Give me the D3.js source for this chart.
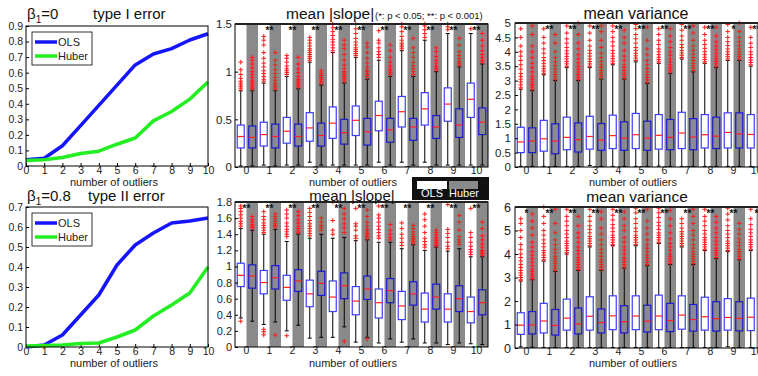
<!DOCTYPE html>
<html>
<head>
<meta charset="utf-8">
<script src="https://cdn.jsdelivr.net/npm/d3@7"></script>
<style>
  body { margin: 0; background: #fff; }
  svg text { font-family: "Liberation Sans", Arial, sans-serif; }
</style>
</head>
<body>
<svg id="fig" width="758" height="376"></svg>
<script>
// x categories shared by all panels
const outlierCounts = [0, 1, 2, 3, 4, 5, 6, 7, 8, 9, 10];

// error rates (left column)
const typeI_OLS = [0.04, 0.05, 0.13, 0.26, 0.39, 0.52, 0.65, 0.72, 0.755, 0.81, 0.85];
const typeI_Huber = [0.035, 0.04, 0.055, 0.08, 0.095, 0.14, 0.18, 0.29, 0.35, 0.43, 0.54];
const typeII_OLS = [0.0, 0.01, 0.06, 0.16, 0.26, 0.41, 0.51, 0.57, 0.62, 0.63, 0.645];
const typeII_Huber = [0.005, 0.008, 0.01, 0.017, 0.02, 0.05, 0.085, 0.155, 0.21, 0.27, 0.40];

// box stats per group: [whisker low, q1, median, q3, whisker high]
const slopeNull_OLS = [
  [0.01, 0.2, 0.32, 0.44, 0.8], [0.02, 0.22, 0.34, 0.47, 0.88], [0.02, 0.25, 0.375, 0.52, 0.95],
  [0.05, 0.27, 0.41, 0.57, 1.1], [0.02, 0.3, 0.46, 0.63, 1.2], [0.02, 0.33, 0.49, 0.64, 1.15],
  [0.05, 0.38, 0.54, 0.69, 1.12], [0.05, 0.42, 0.58, 0.74, 1.22], [0.05, 0.44, 0.61, 0.78, 1.33],
  [0.02, 0.48, 0.66, 0.83, 1.4], [0.02, 0.52, 0.71, 0.88, 1.4]];
const slopeNull_Huber = [
  [0.01, 0.2, 0.31, 0.43, 0.8], [0.01, 0.2, 0.32, 0.45, 0.8], [0.02, 0.22, 0.32, 0.45, 0.82],
  [0.02, 0.22, 0.33, 0.46, 0.86], [0.02, 0.24, 0.36, 0.5, 0.88], [0.02, 0.23, 0.37, 0.51, 0.92],
  [0.02, 0.26, 0.39, 0.51, 0.95], [0.02, 0.28, 0.42, 0.51, 0.95], [0.02, 0.3, 0.42, 0.54, 1.0],
  [0.02, 0.31, 0.44, 0.61, 1.05], [0.02, 0.34, 0.47, 0.62, 1.08]];
const slopeNull_OLS_out = [
  "0.82 0.84 0.86 0.88 0.9 0.93 0.97 1.02 1.1",
  "0.9 0.92 0.95 0.98 1.01 1.05 1.09 1.14 1.2 1.28 1.33 1.37",
  "0.97 0.99 1.01 1.03 1.06 1.1 1.14 1.17",
  "1.12 1.14 1.16 1.18 1.2 1.22 1.24 1.27 1.3 1.33 1.36",
  "1.22 1.25 1.28 1.31 1.34 1.38 1.42 1.46 1.5",
  "1.17 1.19 1.21 1.23 1.25 1.28 1.31 1.35 1.4 1.45 1.5",
  "1.15 1.18 1.21 1.25 1.3 1.33 1.43",
  "1.24 1.26 1.28 1.3 1.33 1.37 1.42 1.47 1.5",
  "1.36 1.4 1.44 1.48 1.5",
  "1.44 1.47 1.5",
  "1.45"];
const slopeNull_Huber_out = [
  "0.82 0.83 0.85 0.87 0.89 0.91 0.94 0.97 1.0 1.04 1.08 1.12 1.15",
  "0.82 0.84 0.86 0.88 0.91 0.94 0.98 1.02 1.07 1.12 1.2",
  "0.84 0.86 0.88 0.9 0.92 0.95 0.99 1.03 1.08 1.15",
  "0.88 0.9 0.92 0.94 0.96 0.98 1.01",
  "0.9 0.92 0.94 0.96 0.98 1.0 1.03 1.07 1.12 1.18 1.24 1.28 1.33",
  "0.94 0.96 0.98 1.0 1.02 1.05 1.09 1.14 1.2 1.26 1.3",
  "0.97 0.99 1.01 1.03 1.06 1.1 1.15 1.22 1.28",
  "0.97 1.0 1.03 1.06 1.1 1.15 1.2 1.25 1.35",
  "1.02 1.04 1.06 1.09 1.12 1.16 1.21 1.25",
  "1.07 1.09 1.11 1.14 1.17 1.21 1.28 1.35",
  "1.1 1.12 1.15 1.18 1.22 1.27 1.33 1.4"];

const slopeAlt_OLS = [
  [0.36, 0.75, 0.89, 1.04, 1.47], [0.28, 0.66, 0.8, 0.95, 1.4], [0.2, 0.58, 0.74, 0.89, 1.31],
  [0.11, 0.5, 0.66, 0.83, 1.35], [0.12, 0.44, 0.62, 0.82, 1.35], [0.06, 0.4, 0.57, 0.75, 1.32],
  [0.05, 0.36, 0.55, 0.72, 1.3], [0.06, 0.34, 0.51, 0.69, 1.22], [0.05, 0.31, 0.47, 0.67, 1.2],
  [0.03, 0.31, 0.47, 0.66, 1.19], [0.04, 0.3, 0.44, 0.62, 1.12]];
const slopeAlt_Huber = [
  [0.32, 0.73, 0.88, 1.02, 1.45], [0.31, 0.72, 0.86, 1.01, 1.46], [0.27, 0.69, 0.82, 0.96, 1.4],
  [0.12, 0.64, 0.79, 0.94, 1.4], [0.25, 0.6, 0.76, 0.92, 1.36], [0.12, 0.59, 0.72, 0.88, 1.33],
  [0.1, 0.55, 0.7, 0.85, 1.3], [0.1, 0.52, 0.66, 0.81, 1.27], [0.05, 0.47, 0.62, 0.78, 1.24],
  [0.05, 0.44, 0.6, 0.76, 1.22], [0.03, 0.4, 0.55, 0.71, 1.12]];
const slopeAlt_OLS_out = [
  "0.32 1.5 1.53 1.56 1.6 1.64 1.68 1.72 1.75",
  "0.15 0.19 0.22 1.42 1.45 1.48 1.51 1.54 1.58 1.62 1.68",
  "0.14 1.37 1.4 1.43 1.46 1.5 1.54 1.6 1.65 1.7",
  "1.38 1.41 1.44 1.47 1.5 1.53 1.57 1.62 1.67 1.72",
  "1.4 1.45 1.57 1.8",
  "1.35 1.38 1.45 1.5 1.53 1.72",
  "1.35 1.38 1.42 1.46 1.5 1.55 1.6 1.64 1.75",
  "1.26 1.3 1.35 1.4 1.47 1.54",
  "1.24 1.27 1.31 1.35 1.42 1.5 1.58 1.65",
  "1.22 1.25 1.3 1.36 1.41 1.46 1.77",
  "1.15 1.18 1.21 1.25 1.3 1.36 1.42 1.72"];
const slopeAlt_Huber_out = [
  "1.48 1.5 1.52 1.55 1.58 1.62",
  "0.15 1.49 1.51 1.53 1.56 1.59 1.62 1.65",
  "1.42 1.44 1.47 1.5 1.54 1.58 1.63 1.68",
  "1.45 1.48 1.51 1.55 1.6",
  "0.07 1.42 1.48 1.53 1.59 1.65 1.72",
  "0.1 1.35 1.37 1.39 1.41 1.43 1.46 1.5 1.55 1.62 1.7",
  "1.33 1.36 1.4 1.45 1.52",
  "1.29 1.31 1.33 1.35 1.37 1.4 1.43 1.47 1.51",
  "1.26 1.28 1.3 1.32 1.34 1.36 1.39 1.42 1.45",
  "1.27 1.3 1.33 1.37 1.45 1.55 1.63",
  "1.14 1.16 1.18 1.2 1.24 1.28 1.33 1.38 1.47 1.55"];

const varNull_OLS = [
  [0.02, 0.5, 0.87, 1.38, 2.7], [0.02, 0.55, 0.98, 1.62, 3.2], [0.02, 0.6, 1.03, 1.73, 3.45],
  [0.05, 0.62, 1.06, 1.76, 3.45], [0.02, 0.64, 1.09, 1.8, 3.55], [0.02, 0.64, 1.12, 1.86, 3.65],
  [0.03, 0.62, 1.1, 1.82, 3.6], [0.02, 0.64, 1.18, 1.9, 3.75], [0.02, 0.66, 1.12, 1.82, 3.6],
  [0.02, 0.66, 1.2, 1.88, 3.7], [0.02, 0.66, 1.13, 1.82, 3.5]];
const varNull_Huber = [
  [0.02, 0.5, 0.9, 1.36, 2.65], [0.02, 0.46, 0.9, 1.5, 3.0], [0.02, 0.52, 0.95, 1.53, 3.0],
  [0.02, 0.58, 0.93, 1.51, 3.05], [0.02, 0.58, 1.0, 1.57, 3.05], [0.02, 0.58, 1.0, 1.59, 2.9],
  [0.02, 0.6, 1.03, 1.65, 3.25], [0.02, 0.6, 1.04, 1.68, 3.3], [0.02, 0.64, 1.07, 1.73, 3.45],
  [0.02, 0.66, 1.15, 1.88, 3.7], [0.02, 0.62, 1.08, 1.75, 3.5]];
const varNull_OLS_out = [
  "2.75 2.85 2.95 3.05 3.15 3.25 3.4 3.55 3.7 3.85 4.0 4.2 4.5 4.8",
  "3.25 3.33 3.41 3.5 3.6 3.7 3.8 3.95 4.1 4.3 4.5 4.8",
  "3.5 3.58 3.66 3.75 3.84 3.93 4.03 4.15 4.3 4.45 4.65 4.9",
  "3.5 3.58 3.66 3.75 3.85 3.95 4.05 4.2 4.4 4.65 4.9",
  "3.6 3.68 3.76 3.85 3.95 4.05 4.2 4.35 4.5 4.7 4.9",
  "3.7 3.78 3.86 3.95 4.05 4.15 4.3 4.45 4.6 4.8 4.95",
  "3.65 3.73 3.81 3.9 4.0 4.1 4.25 4.4 4.6 4.8",
  "3.8 3.88 3.96 4.05 4.15 4.25 4.4 4.55 4.75 4.95",
  "3.65 3.73 3.81 3.9 4.0 4.12 4.25 4.4 4.6 4.85",
  "3.75 3.83 3.91 4.0 4.1 4.22 4.35 4.5 4.7 4.95",
  "3.55 3.63 3.71 3.8 3.9 4.0 4.15 4.3 4.5 4.85"];
const varNull_Huber_out = [
  "2.7 2.78 2.86 2.95 3.05 3.15 3.3 3.45 3.6 3.8 4.0 4.2 4.6 4.9",
  "3.05 3.13 3.21 3.3 3.4 3.52 3.65 3.8 4.0 4.3 4.6",
  "3.05 3.13 3.21 3.3 3.4 3.5 3.62 3.75 3.9 4.1 4.3 4.6 5.0",
  "3.1 3.18 3.26 3.35 3.45 3.55 3.67 3.8 3.95 4.15 4.4 4.7 4.9",
  "3.1 3.18 3.26 3.35 3.45 3.55 3.7 3.85 4.05 4.3 4.5 4.75",
  "2.95 3.03 3.11 3.2 3.3 3.42 3.55 3.7 3.9 4.1 4.4 4.85",
  "3.3 3.38 3.46 3.55 3.65 3.75 3.88 4.0 4.15 4.35 4.55 4.8",
  "3.35 3.43 3.51 3.6 3.7 3.8 3.92 4.05 4.2 4.4 4.65 4.9",
  "3.5 3.58 3.66 3.75 3.85 3.95 4.07 4.2 4.35 4.55 4.85",
  "3.75 3.83 3.91 4.0 4.1 4.22 4.35 4.5 4.7 5.0",
  "3.55 3.63 3.71 3.8 3.9 4.0 4.15 4.3 4.5 4.8"];

const varAlt_OLS = [
  [0.05, 0.58, 0.97, 1.5, 2.85], [0.02, 0.64, 1.15, 1.9, 3.7], [0.02, 0.76, 1.27, 2.08, 4.0],
  [0.02, 0.76, 1.35, 2.18, 4.3], [0.02, 0.78, 1.37, 2.22, 4.35], [0.02, 0.78, 1.36, 2.22, 4.35],
  [0.02, 0.78, 1.36, 2.25, 4.45], [0.02, 0.8, 1.4, 2.22, 4.3], [0.02, 0.76, 1.33, 2.16, 4.15],
  [0.05, 0.76, 1.3, 2.1, 4.1], [0.02, 0.74, 1.31, 2.12, 4.15]];
const varAlt_Huber = [
  [0.03, 0.6, 0.98, 1.55, 2.9], [0.02, 0.55, 0.96, 1.64, 3.25], [0.02, 0.6, 1.02, 1.7, 3.3],
  [0.02, 0.64, 1.08, 1.66, 3.3], [0.02, 0.64, 1.12, 1.8, 3.4], [0.02, 0.68, 1.14, 1.82, 3.5],
  [0.02, 0.7, 1.17, 1.9, 3.55], [0.02, 0.72, 1.21, 1.85, 3.55], [0.02, 0.72, 1.25, 1.97, 3.8],
  [0.02, 0.73, 1.26, 1.97, 3.75], [0.02, 0.72, 1.24, 1.95, 3.7]];
const varAlt_OLS_out = [
  "2.9 3.0 3.1 3.2 3.3 3.42 3.55 3.7 3.85 4.0 4.2 4.4 4.7 5.0 5.3 5.5",
  "3.75 3.85 3.95 4.05 4.15 4.3 4.45 4.6 4.8 5.0 5.3 5.6 6.0",
  "4.05 4.15 4.25 4.35 4.45 4.55 4.7 4.85 5.0 5.2 5.4 5.6 5.9",
  "4.35 4.45 4.55 4.65 4.75 4.9 5.05 5.2 5.4 5.6 5.9",
  "4.4 4.5 4.6 4.7 4.8 4.95 5.1 5.25 5.45 5.65 5.9",
  "4.4 4.5 4.6 4.7 4.8 4.95 5.1 5.3 5.5 5.75 5.95",
  "4.5 4.6 4.7 4.8 4.9 5.05 5.2 5.35 5.55 5.75 5.95",
  "4.35 4.45 4.55 4.65 4.75 4.85 4.95 5.1 5.3 5.5",
  "4.2 4.3 4.4 4.5 4.6 4.7 4.85 5.0 5.2 5.4 5.6 5.9",
  "4.15 4.25 4.35 4.45 4.55 4.7 4.85 5.0 5.2 5.45 5.7 5.95",
  "4.2 4.3 4.4 4.5 4.6 4.75 4.9 5.05 5.25 5.5 5.9"];
const varAlt_Huber_out = [
  "2.95 3.05 3.15 3.25 3.35 3.5 3.65 3.8 3.95 4.1 4.3 4.5 4.8 5.1 5.4 5.7",
  "3.3 3.4 3.5 3.6 3.7 3.8 3.9 4.05 4.2 4.4 4.6 4.9 5.3 5.9",
  "3.35 3.45 3.55 3.65 3.75 3.85 4.0 4.15 4.3 4.5 4.7 4.9 5.2 5.6",
  "3.35 3.45 3.55 3.65 3.75 3.9 4.05 4.2 4.4 4.6 4.85 5.1 5.5 5.8",
  "3.45 3.55 3.65 3.75 3.85 4.0 4.15 4.3 4.5 4.7 5.0 5.2 5.5 5.8",
  "3.55 3.65 3.75 3.85 3.95 4.1 4.25 4.4 4.6 4.85 5.1 5.4 5.9",
  "3.6 3.7 3.8 3.9 4.0 4.15 4.3 4.45 4.65 4.9 5.2 5.5 5.85",
  "3.6 3.7 3.8 3.9 4.0 4.1 4.25 4.4 4.6 4.8 5.0 5.3 5.6 5.9",
  "3.85 3.95 4.05 4.15 4.25 4.4 4.55 4.7 4.9 5.1 5.35 5.6",
  "3.8 3.9 4.0 4.1 4.2 4.35 4.5 4.65 4.85 5.05 5.3",
  "3.75 3.85 3.95 4.05 4.15 4.3 4.45 4.6 4.8 5.0 5.3"];

// significance markers (OLS vs Huber)
const starsSlopeNull = ["", "**", "**", "**", "**", "**", "**", "**", "**", "**", "**"];
const starsSlopeAlt = ["**", "**", "**", "**", "**", "**", "**", "**", "**", "**", "**"];
const starsVarNull = ["", "**", "**", "**", "**", "**", "**", "**", "**", "*", "**"];
const starsVarAlt = ["*", "**", "**", "**", "**", "**", "**", "**", "**", "**", "*"];

const svg = d3.select("#fig");
svg.append("rect").attr("width", 758).attr("height", 376).attr("fill", "#fff");

const BLUE = "#1414ff", GREEN = "#22ee22";
const STRIPE = "#8a8a8a";

function styleAxis(sel, size) {
  sel.select(".domain").remove();
  sel.selectAll("text").attr("font-size", size).attr("fill", "#222")
    .attr("font-family", "'Liberation Sans', Arial, sans-serif");
  sel.selectAll(".tick line").attr("stroke", "#000");
}

function betaTitle(x, y, val) {
  const t = svg.append("text").attr("x", x).attr("y", y).attr("font-size", 15).attr("fill", "#111");
  t.append("tspan").text("β");
  t.append("tspan").attr("font-size", 10).attr("dy", 4).text("1");
  t.append("tspan").attr("dy", -4).text("=" + val);
}

function drawLinePanel(o) {
  const x = d3.scaleLinear().domain([0, 10]).range([26, 208]);
  const y = d3.scaleLinear().domain([0, o.yMax]).range([o.bottom, o.top]);

  svg.append("g").attr("transform", `translate(0,${o.bottom})`)
    .call(d3.axisBottom(x).tickValues(outlierCounts).tickSizeInner(-3).tickSizeOuter(0).tickPadding(1))
    .call(s => styleAxis(s, 10.5));
  svg.append("g").attr("transform", `translate(26,0)`)
    .call(d3.axisLeft(y).tickValues(o.yTicks).tickSizeInner(-3).tickSizeOuter(0).tickPadding(3)
      .tickFormat(d => String(d)))
    .call(s => styleAxis(s, 10.5));

  const line = d3.line().x((d, i) => x(outlierCounts[i])).y(d => y(d));
  svg.append("path").datum(o.ols).attr("d", line).attr("fill", "none")
    .attr("stroke", BLUE).attr("stroke-width", 3.5).attr("stroke-linejoin", "round");
  svg.append("path").datum(o.huber).attr("d", line).attr("fill", "none")
    .attr("stroke", GREEN).attr("stroke-width", 3.5).attr("stroke-linejoin", "round");

  svg.append("rect").attr("x", 26).attr("y", o.top).attr("width", 182).attr("height", o.bottom - o.top)
    .attr("fill", "none").attr("stroke", "#000").attr("stroke-width", 1);

  // legend
  const lg = svg.append("g").attr("transform", `translate(32,${o.legendTop})`);
  lg.append("rect").attr("width", 60).attr("height", 33).attr("fill", "#fff").attr("stroke", "#000").attr("stroke-width", 0.8);
  [["OLS", BLUE, 10], ["Huber", GREEN, 24]].forEach(([name, c, ly]) => {
    lg.append("line").attr("x1", 3).attr("x2", 25).attr("y1", ly).attr("y2", ly).attr("stroke", c).attr("stroke-width", 3.5);
    lg.append("text").attr("x", 26).attr("y", ly + 4).attr("font-size", 11).attr("fill", "#222").text(name);
  });

  betaTitle(27, o.titleY, o.beta);
  svg.append("text").attr("x", o.titleX).attr("y", o.titleY).attr("font-size", 15).attr("fill", "#111").text(o.title);
  svg.append("text").attr("x", 114).attr("y", o.xlabelY).attr("text-anchor", "middle")
    .attr("font-size", 11).attr("fill", "#222").text("number of outliers");
}

function drawBoxPanel(o) {
  const x = d3.scaleBand().domain(outlierCounts).range([o.left, o.left + 253]);
  const y = d3.scaleLinear().domain([0, o.yMax]).range([o.bottom, o.top]);
  const half = x.bandwidth() / 2;
  const g = svg.append("g");

  g.selectAll(".stripe").data(outlierCounts).join("rect")
    .attr("x", d => x(d) + half).attr("y", o.top)
    .attr("width", half).attr("height", o.bottom - o.top).attr("fill", STRIPE);

  const methods = [
    { stats: o.ols, out: o.olsOut, off: half * 0.5, stroke: "#3c3cff", fill: "#fff" },
    { stats: o.huber, out: o.huberOut, off: half * 1.5, stroke: "#1a1ad0", fill: "none" }
  ];
  const bw = 7;
  methods.forEach(m => {
    const rows = m.stats.map((s, i) => ({ i, lo: s[0], q1: s[1], med: s[2], q3: s[3], hi: s[4], cx: x(i) + m.off }));
    const mg = g.append("g");
    // whiskers
    mg.selectAll(".wl").data(rows).join("line")
      .attr("x1", d => d.cx).attr("x2", d => d.cx).attr("y1", d => y(d.lo)).attr("y2", d => y(d.q1))
      .attr("stroke", "#000").attr("stroke-width", 1);
    mg.selectAll(".wh").data(rows).join("line")
      .attr("x1", d => d.cx).attr("x2", d => d.cx).attr("y1", d => y(d.q3)).attr("y2", d => y(d.hi))
      .attr("stroke", "#000").attr("stroke-width", 1);
    mg.selectAll(".cl").data(rows).join("line")
      .attr("x1", d => d.cx - 2).attr("x2", d => d.cx + 2).attr("y1", d => y(d.lo)).attr("y2", d => y(d.lo))
      .attr("stroke", "#000");
    mg.selectAll(".ch").data(rows).join("line")
      .attr("x1", d => d.cx - 2).attr("x2", d => d.cx + 2).attr("y1", d => y(d.hi)).attr("y2", d => y(d.hi))
      .attr("stroke", "#000");
    // boxes
    mg.selectAll(".bx").data(rows).join("rect")
      .attr("x", d => d.cx - bw / 2).attr("width", bw)
      .attr("y", d => y(d.q3)).attr("height", d => y(d.q1) - y(d.q3))
      .attr("fill", m.fill).attr("stroke", m.stroke).attr("stroke-width", 1.2);
    mg.selectAll(".md").data(rows).join("line")
      .attr("x1", d => d.cx - bw / 2).attr("x2", d => d.cx + bw / 2)
      .attr("y1", d => y(d.med)).attr("y2", d => y(d.med))
      .attr("stroke", "#ff2020").attr("stroke-width", 1.2);
    // outliers
    const pts = [];
    m.out.forEach((str, i) => str.split(" ").forEach(v => pts.push({ cx: x(i) + m.off, v: +v })));
    mg.selectAll(".ol").data(pts).join("path")
      .attr("transform", d => `translate(${d.cx},${y(d.v)})`)
      .attr("d", "M-2.3,0H2.3M0,-2.3V2.3")
      .attr("stroke", "#ff1a1a").attr("stroke-width", 1).attr("fill", "none");
  });

  // significance stars
  g.selectAll(".star").data(o.stars).join("text")
    .attr("x", (d, i) => x(i) + half).attr("y", o.top + 10)
    .attr("text-anchor", "middle").attr("font-size", 10).attr("font-weight", "bold")
    .attr("fill", "#111").text(d => d);

  svg.append("g").attr("transform", `translate(0,${o.bottom})`)
    .call(d3.axisBottom(x).tickSize(0).tickPadding(0))
    .call(s => styleAxis(s, 10.5));
  svg.append("g").attr("transform", `translate(${o.left},0)`)
    .call(d3.axisLeft(y).tickValues(o.yTicks).tickSizeInner(-3).tickSizeOuter(0).tickPadding(o.pad)
      .tickFormat(d => String(d)))
    .call(s => styleAxis(s, o.ySize));

  svg.append("rect").attr("x", o.left).attr("y", o.top).attr("width", 253).attr("height", o.bottom - o.top)
    .attr("fill", "none").attr("stroke", "#000").attr("stroke-width", 1);
  svg.append("line").attr("x1", o.left).attr("x2", o.left + 253).attr("y1", o.top).attr("y2", o.top)
    .attr("stroke", "#222").attr("stroke-width", 2);

  svg.append("text").attr("x", o.left + 118).attr("y", o.xlabelY).attr("text-anchor", "middle")
    .attr("font-size", 11).attr("fill", "#222").text("number of outliers");
}

drawLinePanel({ top: 26, bottom: 166, yMax: 0.9, yTicks: [0, 0.1, 0.2, 0.3, 0.4, 0.5, 0.6, 0.7, 0.8, 0.9],
  ols: typeI_OLS, huber: typeI_Huber, legendTop: 32, beta: "0", title: "type I error", titleX: 93, titleY: 19, xlabelY: 186 });
drawLinePanel({ top: 207, bottom: 347, yMax: 0.7, yTicks: [0, 0.1, 0.2, 0.3, 0.4, 0.5, 0.6, 0.7],
  ols: typeII_OLS, huber: typeII_Huber, legendTop: 213, beta: "0.8", title: "type II error", titleX: 88, titleY: 201, xlabelY: 367 });

drawBoxPanel({ left: 235, top: 24, bottom: 167, yMax: 1.5, yTicks: [0, 0.5, 1, 1.5], pad: 3, ySize: 11.5,
  ols: slopeNull_OLS, huber: slopeNull_Huber, olsOut: slopeNull_OLS_out, huberOut: slopeNull_Huber_out,
  stars: starsSlopeNull, xlabelY: 186 });
drawBoxPanel({ left: 235, top: 202, bottom: 347, yMax: 1.8, yTicks: [0, 0.2, 0.4, 0.6, 0.8, 1, 1.2, 1.4, 1.6, 1.8], pad: 3, ySize: 11,
  ols: slopeAlt_OLS, huber: slopeAlt_Huber, olsOut: slopeAlt_OLS_out, huberOut: slopeAlt_Huber_out,
  stars: starsSlopeAlt, xlabelY: 367 });
drawBoxPanel({ left: 515, top: 23, bottom: 167, yMax: 5, yTicks: [0, 0.5, 1, 1.5, 2, 2.5, 3, 3.5, 4, 4.5, 5], pad: 4, ySize: 11.5,
  ols: varNull_OLS, huber: varNull_Huber, olsOut: varNull_OLS_out, huberOut: varNull_Huber_out,
  stars: starsVarNull, xlabelY: 186 });
drawBoxPanel({ left: 515, top: 207, bottom: 348, yMax: 6, yTicks: [0, 1, 2, 3, 4, 5, 6], pad: 4, ySize: 12.5,
  ols: varAlt_OLS, huber: varAlt_Huber, olsOut: varAlt_OLS_out, huberOut: varAlt_Huber_out,
  stars: starsVarAlt, xlabelY: 367 });

// panel titles
svg.append("text").attr("x", 286).attr("y", 19).attr("font-size", 15.5).attr("fill", "#111").text("mean |slope|");
svg.append("text").attr("x", 375).attr("y", 19).attr("font-size", 9.5).attr("fill", "#111").text("(*: p < 0.05; **: p < 0.001)");
svg.append("text").attr("x", 352).attr("y", 201).attr("text-anchor", "middle").attr("font-size", 15).attr("fill", "#111").text("mean |slope|");
svg.append("text").attr("x", 636).attr("y", 19).attr("text-anchor", "middle").attr("font-size", 16).attr("fill", "#111").text("mean variance");
svg.append("text").attr("x", 637).attr("y", 202).attr("text-anchor", "middle").attr("font-size", 15.5).attr("fill", "#111").text("mean variance");

// OLS / Huber key
const key = svg.append("g").attr("transform", "translate(412,177)");
key.append("rect").attr("width", 77).attr("height", 23).attr("fill", "#111");
key.append("rect").attr("x", 5).attr("y", 4).attr("width", 30).attr("height", 8).attr("fill", "#fff");
key.append("rect").attr("x", 37).attr("y", 4).attr("width", 29).attr("height", 8).attr("fill", STRIPE);
key.append("text").attr("x", 20).attr("y", 20).attr("text-anchor", "middle").attr("font-size", 11).attr("fill", "#fff").text("OLS");
key.append("text").attr("x", 52).attr("y", 20).attr("text-anchor", "middle").attr("font-size", 11).attr("fill", "#fff").text("Huber");
</script>
</body>
</html>
